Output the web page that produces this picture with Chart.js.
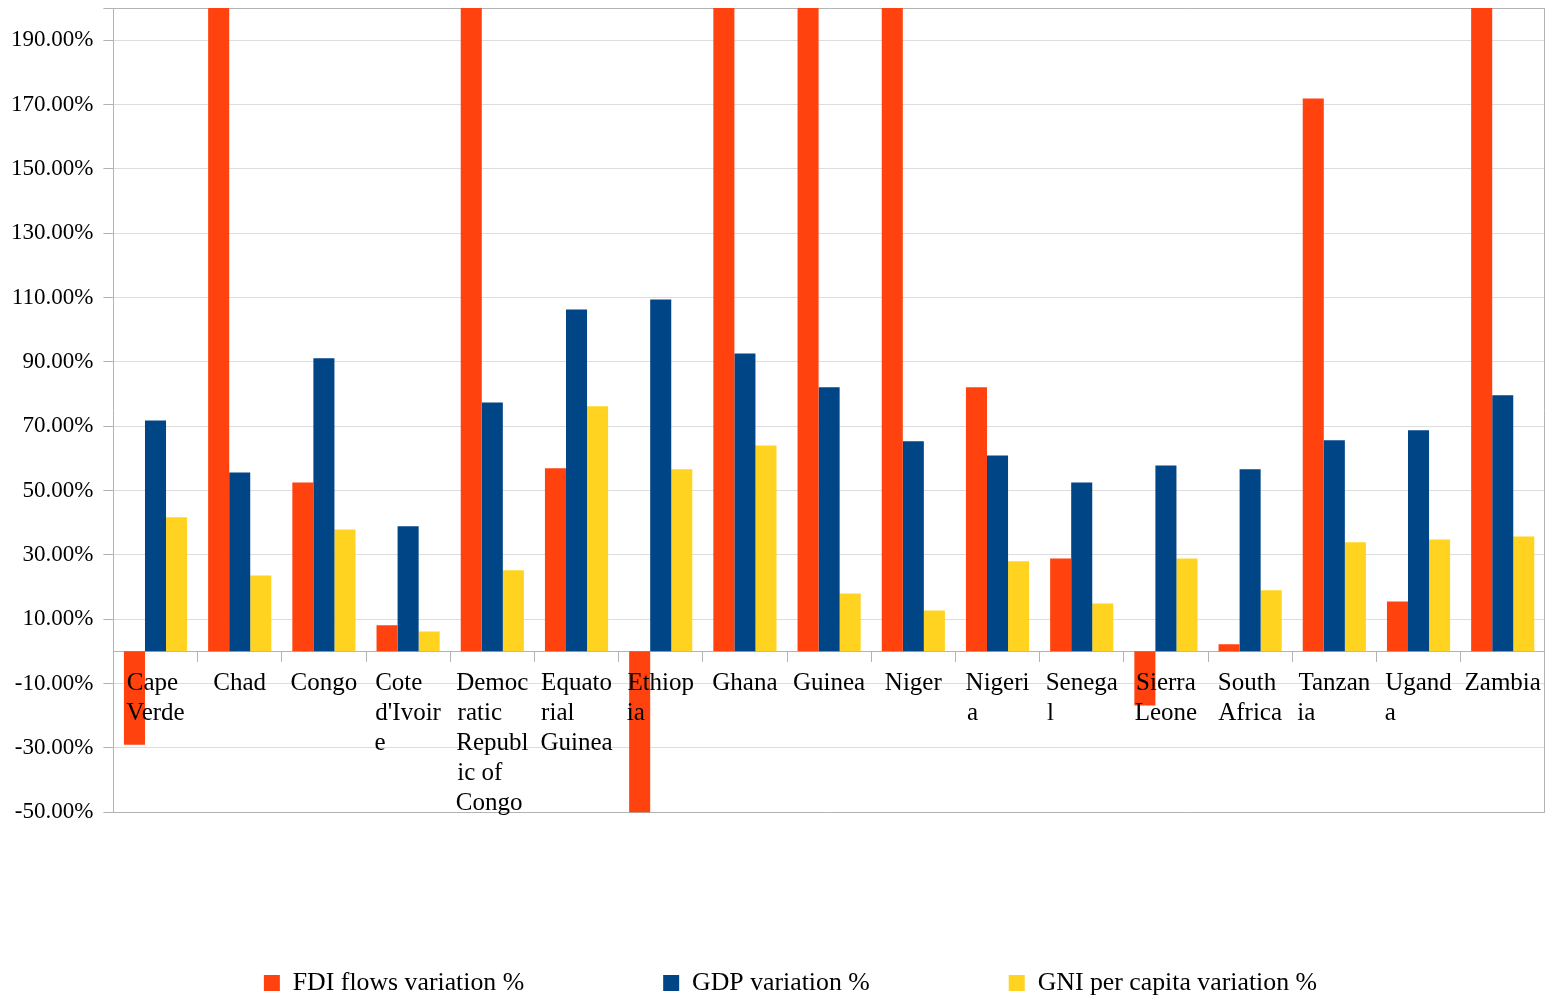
<!DOCTYPE html>
<html><head><meta charset="utf-8">
<script src="https://cdn.jsdelivr.net/npm/chart.js@4.4.0/dist/chart.umd.min.js"></script>
<style>html,body{margin:0;padding:0;background:#fff;} #wrap{width:1548px;height:999px;}</style>
</head><body><div id="wrap"><canvas id="c" width="1548" height="999"></canvas></div>
<script>
const categories = ["Cape Verde","Chad","Congo","Cote d'Ivoire","Democratic Republic of Congo","Equatorial Guinea","Ethiopia","Ghana","Guinea","Niger","Nigeria","Senegal","Sierra Leone","South Africa","Tanzania","Uganda","Zambia"];
const categoryLabelLines = [["Cape","Verde"],["Chad"],["Congo"],["Cote","d'Ivoir","e"],["Democ","ratic","Republ","ic of","Congo"],["Equato","rial","Guinea"],["Ethiop","ia"],["Ghana"],["Guinea"],["Niger"],["Nigeri","a"],["Senega","l"],["Sierra","Leone"],["South","Africa"],["Tanzan","ia"],["Ugand","a"],["Zambia"]];
const seriesNames = ["FDI flows variation %","GDP variation %","GNI per capita variation %"];
const fdiValues = [-29, 250, 52.5, 8.1, 250, 56.9, -60, 250, 250, 250, 82.1, 28.9, -16.8, 2.2, 171.9, 15.5, 250];
const gdpValues = [71.8, 55.6, 91.1, 38.9, 77.4, 106.3, 109.4, 92.6, 82.1, 65.3, 60.9, 52.5, 57.8, 56.6, 65.6, 68.7, 79.6];
const gniValues = [41.7, 23.6, 37.9, 6.2, 25.2, 76.2, 56.6, 64.0, 18.0, 12.7, 28.0, 14.9, 28.9, 19.0, 33.9, 34.8, 35.7];
const yTickValues = [-50,-30,-10,10,30,50,70,90,110,130,150,170,190];
const yMin = -50, yMax = 200;
const seriesColors = ["#ff420e","#004586","#ffd320"];

const FONT = "Liberation Serif";
const xFontSize = 25, yFontSize = 23, legendFontSize = 25.8;
const legendGapSpaces = 20, legendTailSpaces = 12;

function padLines(lines, font) {
  const ctx = document.createElement('canvas').getContext('2d');
  ctx.font = font;
  const maxW = Math.max(...lines.map(l => ctx.measureText(l).width));
  const sp = ctx.measureText(' ').width;
  return lines.map(l => { let s = l; while (ctx.measureText(s + ' ').width <= maxW + sp / 2) s += ' '; return s; });
}
const xLabels = categoryLabelLines.map(lines => padLines(lines, xFontSize + 'px "' + FONT + '"'));

Chart.defaults.font.family = FONT;
Chart.defaults.color = '#000';

new Chart(document.getElementById('c'), {
  type: 'bar',
  data: {
    labels: xLabels,
    datasets: [
      { label: seriesNames[0], data: fdiValues, backgroundColor: seriesColors[0], borderWidth: 0 },
      { label: seriesNames[1], data: gdpValues, backgroundColor: seriesColors[1], borderWidth: 0 },
      { label: seriesNames[2], data: gniValues, backgroundColor: seriesColors[2], borderWidth: 0 }
    ]
  },
  options: {
    responsive: false,
    animation: false,
    devicePixelRatio: 1,
    categoryPercentage: 0.75,
    barPercentage: 1.0,
    layout: { padding: { left: 1, right: 3, top: 8, bottom: -7 } },
    plugins: {
      tooltip: { enabled: false },
      legend: {
        position: 'bottom',
        fullSize: false,
        labels: {
          font: { size: legendFontSize, lineHeight: 0.62 },
          color: '#000',
          boxWidth: 16,
          boxHeight: 16,
          padding: 10,
          generateLabels: chart => {
            const items = Chart.defaults.plugins.legend.labels.generateLabels(chart);
            items.forEach((it, i) => {
              it.text = it.text + ' '.repeat(i < items.length - 1 ? legendGapSpaces : legendTailSpaces);
            });
            return items;
          }
        }
      }
    },
    scales: {
      x: {
        type: 'category',
        position: { y: 0 },
        offset: true,
        grid: { offset: true, drawOnChartArea: false, tickLength: 10, color: '#b3b3b3' },
        border: { color: '#b3b3b3' },
        ticks: { z: 1, font: { size: xFontSize, lineHeight: 1.2 }, color: '#000', padding: 7, maxRotation: 0, minRotation: 0, autoSkip: false }
      },
      xSpace: {
        type: 'category',
        position: 'bottom',
        display: true,
        grid: { display: false, drawTicks: false },
        border: { display: false },
        ticks: { display: false },
        afterFit: s => { s.height = 148; }
      },
      y: {
        type: 'linear',
        min: yMin,
        max: yMax,
        afterBuildTicks: s => { s.ticks = yTickValues.concat([yMax]).map(v => ({ value: v })); },
        afterFit: s => { s.paddingTop = 0; s.paddingBottom = 0; },
        grid: {
          color: c => (c.tick && (c.tick.value === yMax || c.tick.value === yMin)) ? '#b3b3b3' : '#dddddd',
          tickColor: '#b3b3b3',
          tickLength: 10
        },
        border: { color: '#b3b3b3' },
        ticks: {
          font: { size: yFontSize },
          color: '#000',
          padding: 10,
          autoSkip: false,
          callback: v => v === yMax ? '' : v.toFixed(2) + '%'
        }
      },
      y2: {
        type: 'linear',
        position: 'right',
        display: true,
        grid: { drawOnChartArea: false, drawTicks: false },
        ticks: { display: false },
        border: { color: '#b3b3b3' }
      }
    }
  }
});
</script>
</body></html>
